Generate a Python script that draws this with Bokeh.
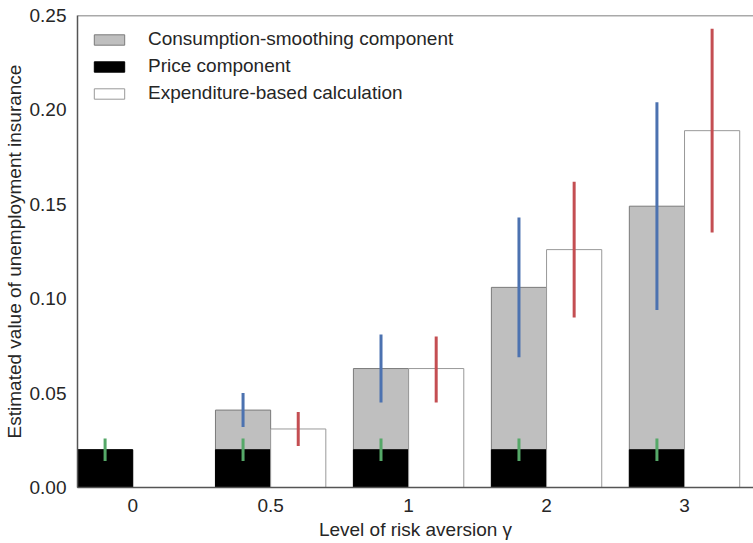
import numpy as np
from bokeh.plotting import figure
from bokeh.models import (ColumnDataSource, FixedTicker, NumeralTickFormatter,
                          Legend, LegendItem, Span)
from bokeh.transform import dodge
from bokeh.embed import file_html
from bokeh.resources import INLINE

# ---- data ----
categories = ["0", "0.5", "1", "2", "3"]
price_component = [0.020, 0.020, 0.020, 0.020, 0.020]
consumption_total = [0.020, 0.041, 0.063, 0.106, 0.149]
expenditure_based = [np.nan, 0.031, 0.063, 0.126, 0.189]

cs_ci_low = [np.nan, 0.032, 0.045, 0.069, 0.094]
cs_ci_high = [np.nan, 0.050, 0.081, 0.143, 0.204]
exp_ci_low = [np.nan, 0.022, 0.045, 0.090, 0.135]
exp_ci_high = [np.nan, 0.040, 0.080, 0.162, 0.243]
price_ci_low = [0.014, 0.014, 0.014, 0.014, 0.014]
price_ci_high = [0.026, 0.026, 0.026, 0.026, 0.026]

y_ticks = [0.00, 0.05, 0.10, 0.15, 0.20, 0.25]

FONT = "Liberation Sans"
TXT = "#262626"

src = ColumnDataSource(dict(
    x=list(range(len(categories))),
    price=price_component,
    cons=consumption_total,
    exp=np.array(expenditure_based, dtype=float),
    cs_lo=np.array(cs_ci_low, dtype=float), cs_hi=np.array(cs_ci_high, dtype=float),
    ex_lo=np.array(exp_ci_low, dtype=float), ex_hi=np.array(exp_ci_high, dtype=float),
    pr_lo=price_ci_low, pr_hi=price_ci_high,
))

p = figure(width=753, height=542, x_range=(-0.4, 4.5), y_range=(0, 0.25),
           output_backend="svg", toolbar_location=None,
           min_border_left=69, min_border_right=0, min_border_top=15, min_border_bottom=40)
p.outline_line_color = None
p.xgrid.visible = False
p.ygrid.visible = False
p.background_fill_color = "white"

left_x = dodge("x", -0.2)
right_x = dodge("x", 0.2)
W = 0.4

r_cons = p.vbar(x=left_x, width=W, bottom=0, top="cons", source=src,
                fill_color="#bfbfbf", line_color="#7a7a7a", line_width=1)
r_price = p.vbar(x=left_x, width=W, bottom=0, top="price", source=src,
                 fill_color="black", line_color="black", line_width=1)
r_exp = p.vbar(x=right_x, width=W, bottom=0, top="exp", source=src,
               fill_color="white", line_color="#999999", line_width=1)

p.segment(x0=left_x, x1=left_x, y0="cs_lo", y1="cs_hi", source=src,
          line_color="#4C72B0", line_width=3)
p.segment(x0=right_x, x1=right_x, y0="ex_lo", y1="ex_hi", source=src,
          line_color="#C44E52", line_width=3)
p.segment(x0=left_x, x1=left_x, y0="pr_lo", y1="pr_hi", source=src,
          line_color="#55A868", line_width=3)

p.add_layout(Span(location=0.25, dimension="width", line_color="#555555", line_width=1.5))

# axes
p.xaxis.ticker = FixedTicker(ticks=list(range(len(categories))))
p.xaxis.major_label_overrides = {i: c for i, c in enumerate(categories)}
p.yaxis.ticker = FixedTicker(ticks=y_ticks)
p.yaxis.formatter = NumeralTickFormatter(format="0.00")
for ax in (p.xaxis[0], p.yaxis[0]):
    ax.major_tick_line_color = None
    ax.minor_tick_line_color = None
    ax.major_tick_out = 0
    ax.major_tick_in = 0
    ax.minor_tick_out = 0
    ax.minor_tick_in = 0
    ax.axis_line_color = "#555555"
    ax.axis_line_width = 1.5
    ax.major_label_text_font = FONT
    ax.major_label_text_font_size = "19px"
    ax.major_label_text_color = TXT
    ax.axis_label_text_font = FONT
    ax.axis_label_text_font_size = "19px"
    ax.axis_label_text_font_style = "normal"
    ax.axis_label_text_color = TXT
p.xaxis.axis_label = "Level of risk aversion γ"
p.yaxis.axis_label = "Estimated value of unemployment insurance"
p.xaxis.major_label_standoff = 11
p.xaxis.axis_label_standoff = 4
p.yaxis.major_label_standoff = 11
p.yaxis.axis_label_standoff = 2

legend = Legend(items=[
    LegendItem(label="Consumption-smoothing component", renderers=[r_cons]),
    LegendItem(label="Price component", renderers=[r_price]),
    LegendItem(label="Expenditure-based calculation", renderers=[r_exp]),
], location="top_left")
legend.border_line_color = None
legend.background_fill_alpha = 0
legend.margin = 13
legend.padding = 16
legend.spacing = 5
legend.glyph_width = 38
legend.glyph_height = 13
legend.label_standoff = 20
legend.label_text_font = FONT
legend.label_text_font_size = "19px"
legend.label_text_color = TXT
p.add_layout(legend)

open("out.html", "w").write(file_html(p, INLINE))
